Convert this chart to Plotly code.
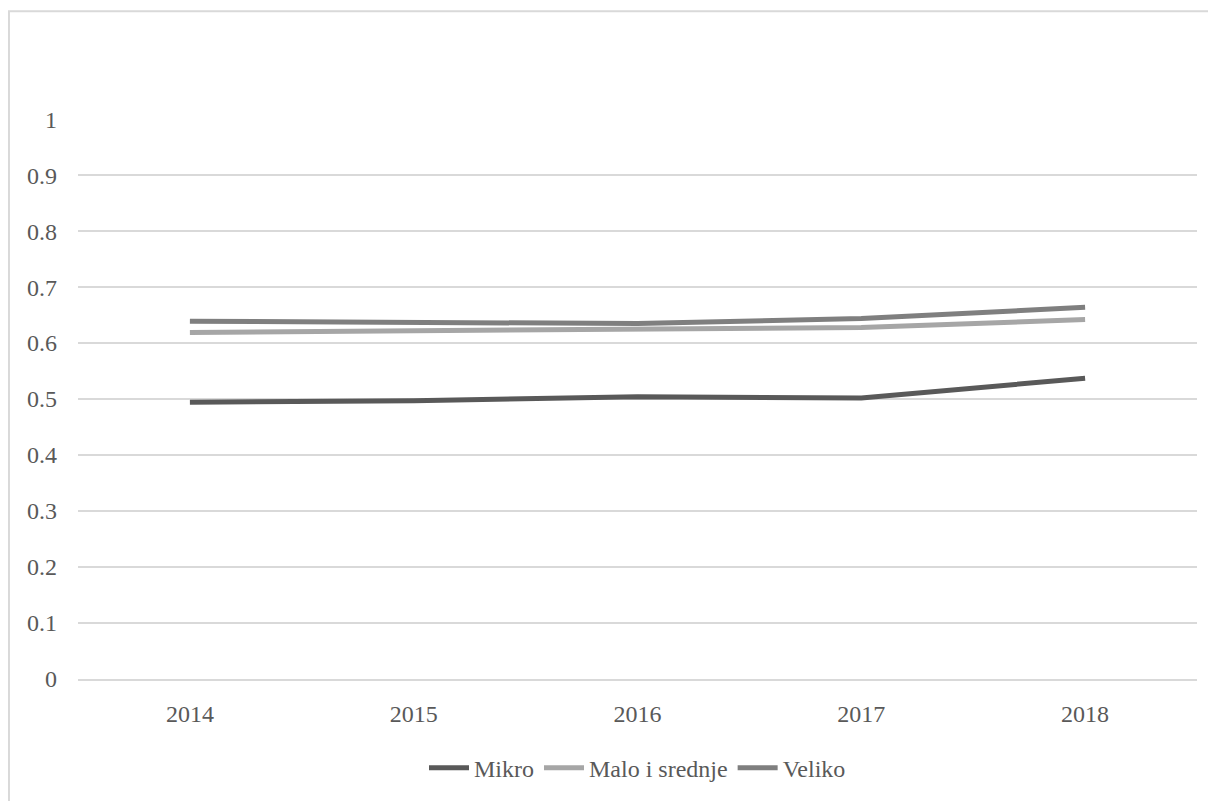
import plotly.graph_objects as go

years = ["2014", "2015", "2016", "2017", "2018"]
mikro = [0.494, 0.497, 0.504, 0.502, 0.537]
malo_i_srednje = [0.619, 0.622, 0.626, 0.628, 0.642]
veliko = [0.639, 0.638, 0.635, 0.644, 0.664]

series_names = ["Mikro", "Malo i srednje", "Veliko"]
series_values = [mikro, malo_i_srednje, veliko]
series_colors = ["#595959", "#a6a6a6", "#7f7f7f"]

y_ticks = [0, 0.1, 0.2, 0.3, 0.4, 0.5, 0.6, 0.7, 0.8, 0.9, 1]
y_labels = ["0", "0.1", "0.2", "0.3", "0.4", "0.5", "0.6", "0.7", "0.8", "0.9", "1"]

FONT = "Liberation Serif"
TXT = "#595959"
GRID = "#d9d9d9"

fig = go.Figure()
for name, vals, col in zip(series_names, series_values, series_colors):
    fig.add_trace(go.Scatter(
        x=years, y=vals, name=name, mode="lines",
        line=dict(color=col, width=5),
    ))

fig.update_layout(
    width=1208, height=793,
    margin=dict(l=70, r=19, t=111, b=121),
    paper_bgcolor="white", plot_bgcolor="white",
    font=dict(family=FONT, color=TXT, size=24),
    showlegend=True,
    legend=dict(
        orientation="h", x=0.5, xanchor="center", y=-0.157, yanchor="middle",
        font=dict(family=FONT, color=TXT, size=24),
        itemwidth=40, tracegroupgap=0,
    ),
    xaxis=dict(
        type="category", range=[-0.5, 4.5],
        showgrid=False, zeroline=False, showline=True, linecolor=GRID, linewidth=1.5,
        ticks="", ticklabelstandoff=12,
        tickfont=dict(family=FONT, color=TXT, size=24),
    ),
    yaxis=dict(
        range=[-0.0008, 1.0008], tickmode="array", tickvals=y_ticks, ticktext=y_labels,
        showgrid=True, gridcolor=GRID, gridwidth=1.5, zeroline=False, showline=False,
        ticks="", ticklabelstandoff=20,
        tickfont=dict(family=FONT, color=TXT, size=24),
    ),
    shapes=[dict(
        type="rect", xref="paper", yref="paper",
        x0=-0.0617, x1=1.03, y0=-0.23, y1=1.1925,
        line=dict(color=GRID, width=2), fillcolor="rgba(0,0,0,0)", layer="below",
    )],
)

fig.write_html("out.html")
